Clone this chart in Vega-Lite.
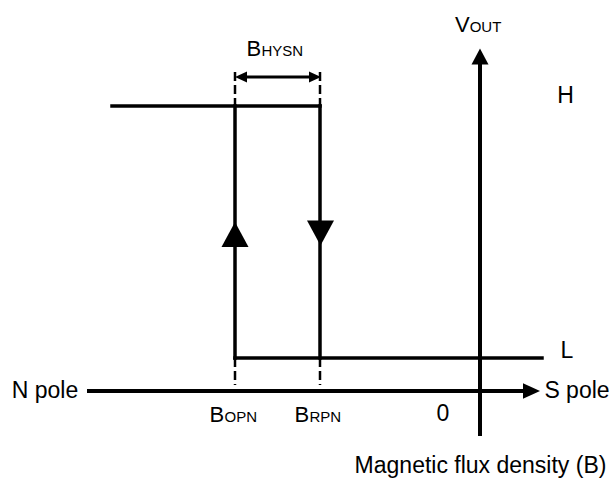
{
  "$schema": "https://vega.github.io/schema/vega-lite/v6.json",
  "width": 614,
  "height": 481,
  "autosize": {"type": "fit", "contains": "padding"},
  "padding": 0,
  "background": "white",
  "config": {"view": {"stroke": null}},
  "datasets": {
    "solid": [
      {"x": 112, "y": 106, "x2": 320, "y2": 106},
      {"x": 235, "y": 358, "x2": 542, "y2": 358},
      {"x": 235, "y": 106, "x2": 235, "y2": 358},
      {"x": 320, "y": 106, "x2": 320, "y2": 358}
    ],
    "axes": [
      {"x": 87, "y": 391, "x2": 526, "y2": 391},
      {"x": 480, "y": 436, "x2": 480, "y2": 60}
    ],
    "dashes": [
      {"x": 235, "y": 72, "x2": 235, "y2": 106},
      {"x": 320, "y": 72, "x2": 320, "y2": 106},
      {"x": 235, "y": 358, "x2": 235, "y2": 385},
      {"x": 320, "y": 358, "x2": 320, "y2": 385}
    ],
    "hyst": [
      {"x": 240, "y": 77, "x2": 316, "y2": 77}
    ],
    "arrows": [
      {"x": 235, "y": 234.5, "dir": "up", "kind": "big"},
      {"x": 320.5, "y": 233, "dir": "down", "kind": "big"},
      {"x": 531.5, "y": 391, "dir": "right", "kind": "axis"},
      {"x": 480, "y": 56.5, "dir": "up", "kind": "axis"},
      {"x": 241, "y": 77, "dir": "left", "kind": "small"},
      {"x": 315, "y": 77, "dir": "right", "kind": "small"}
    ],
    "centerText": [
      {"x": 45, "y": 398, "label": "N pole"},
      {"x": 577, "y": 398, "label": "S pole"},
      {"x": 565.5, "y": 103, "label": "H"},
      {"x": 567, "y": 358, "label": "L"},
      {"x": 443, "y": 421, "label": "0"},
      {"x": 480.5, "y": 473, "label": "Magnetic flux density (B)"}
    ],
    "mainText": [
      {"x": 209.5, "y": 422, "label": "B"},
      {"x": 294.5, "y": 422, "label": "B"},
      {"x": 246.5, "y": 56, "label": "B"},
      {"x": 455, "y": 32, "label": "V"}
    ],
    "subText": [
      {"x": 224.5, "y": 422, "label": "OPN"},
      {"x": 309.5, "y": 422, "label": "RPN"},
      {"x": 261.5, "y": 56, "label": "HYSN"},
      {"x": 469.7, "y": 32, "label": "OUT"}
    ]
  },
  "encoding": {
    "x": {"field": "x", "type": "quantitative", "scale": {"domain": [0, 614], "nice": false, "zero": false}, "axis": null},
    "y": {"field": "y", "type": "quantitative", "scale": {"domain": [0, 481], "reverse": true, "nice": false, "zero": false}, "axis": null}
  },
  "layer": [
    {
      "data": {"name": "solid"},
      "mark": {"type": "rule", "color": "black", "strokeWidth": 3.5, "strokeCap": "square"},
      "encoding": {"x2": {"field": "x2"}, "y2": {"field": "y2"}}
    },
    {
      "data": {"name": "axes"},
      "mark": {"type": "rule", "color": "black", "strokeWidth": 4},
      "encoding": {"x2": {"field": "x2"}, "y2": {"field": "y2"}}
    },
    {
      "data": {"name": "dashes"},
      "mark": {"type": "rule", "color": "black", "strokeWidth": 2.5, "strokeDash": [9, 4]},
      "encoding": {"x2": {"field": "x2"}, "y2": {"field": "y2"}}
    },
    {
      "data": {"name": "hyst"},
      "mark": {"type": "rule", "color": "black", "strokeWidth": 3},
      "encoding": {"x2": {"field": "x2"}, "y2": {"field": "y2"}}
    },
    {
      "data": {"name": "arrows"},
      "transform": [{"filter": "datum.kind === 'big'"}],
      "mark": {"type": "point", "filled": true, "color": "black", "opacity": 1, "strokeWidth": 0, "size": 729},
      "encoding": {
        "shape": {"field": "dir", "type": "nominal", "legend": null,
          "scale": {"domain": ["up", "down", "left", "right"], "range": ["M0,-0.93L1,0.93L-1,0.93Z", "M0,0.93L1,-0.93L-1,-0.93Z", "M-1,0L1,-0.9L1,0.9Z", "M1,0L-1,-0.9L-1,0.9Z"]}}
      }
    },
    {
      "data": {"name": "arrows"},
      "transform": [{"filter": "datum.kind === 'axis'"}],
      "mark": {"type": "point", "filled": true, "color": "black", "opacity": 1, "strokeWidth": 0, "size": 289},
      "encoding": {
        "shape": {"field": "dir", "type": "nominal", "legend": null,
          "scale": {"domain": ["up", "down", "left", "right"], "range": ["M0,-1L0.95,1L-0.95,1Z", "M0,1L0.95,-1L-0.95,-1Z", "M-1,0L1,-0.85L1,0.85Z", "M1,0L-1,-0.85L-1,0.85Z"]}}
      }
    },
    {
      "data": {"name": "arrows"},
      "transform": [{"filter": "datum.kind === 'small'"}],
      "mark": {"type": "point", "filled": true, "color": "black", "opacity": 1, "strokeWidth": 0, "size": 144},
      "encoding": {
        "shape": {"field": "dir", "type": "nominal", "legend": null,
          "scale": {"domain": ["up", "down", "left", "right"], "range": ["M0,-1L0.9,1L-0.9,1Z", "M0,1L0.9,-1L-0.9,-1Z", "M-1,0L1,-0.9L1,0.9Z", "M1,0L-1,-0.9L-1,0.9Z"]}}
      }
    },
    {
      "data": {"name": "centerText"},
      "mark": {"type": "text", "font": "Liberation Sans", "fontSize": 23, "color": "black", "align": "center", "baseline": "alphabetic"},
      "encoding": {"text": {"field": "label"}}
    },
    {
      "data": {"name": "mainText"},
      "mark": {"type": "text", "font": "Liberation Sans", "fontSize": 22, "color": "black", "align": "left", "baseline": "alphabetic"},
      "encoding": {"text": {"field": "label"}}
    },
    {
      "data": {"name": "subText"},
      "mark": {"type": "text", "font": "Liberation Sans", "fontSize": 15, "color": "black", "align": "left", "baseline": "alphabetic"},
      "encoding": {"text": {"field": "label"}}
    }
  ]
}
